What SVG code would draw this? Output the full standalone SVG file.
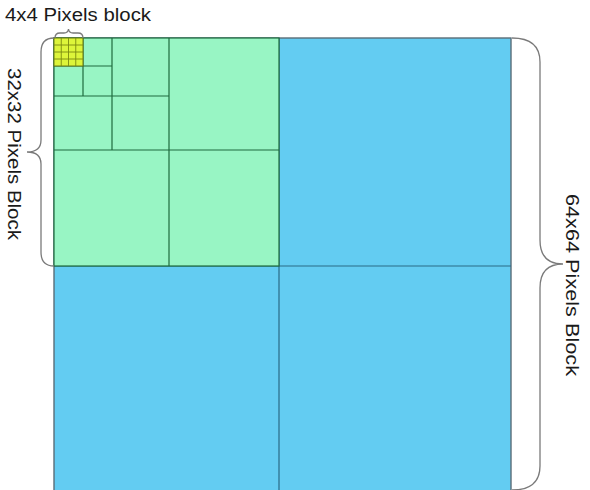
<svg xmlns="http://www.w3.org/2000/svg" width="590" height="490" viewBox="0 0 590 490">
<style>
.lbl{font-family:"Liberation Sans",Arial,sans-serif;font-size:18px;fill:#1a1a1a}
.brace{fill:none;stroke:#7a7a7a;stroke-width:1.3}
.gl{stroke:#1f6b3f;stroke-width:1.2;fill:none}
.bl{stroke:#2a6a85;stroke-width:1.2;fill:none}
.yl{stroke:#7a8a10;stroke-width:0.9;fill:none}
</style>
<rect width="590" height="490" fill="#ffffff"/>
<g id="block64">
<rect x="54" y="38" width="457" height="460" fill="#63CCF2" stroke="#5a6d78" stroke-width="1.4"/>
<line class="bl" x1="279" y1="38" x2="279" y2="490"/>
<line class="bl" x1="54" y1="266" x2="511" y2="266"/>
</g>
<g id="block32">
<rect x="54" y="38" width="225" height="228" fill="#98F5C4" stroke="#1f6b3f" stroke-width="1.2"/>
<line class="gl" x1="169" y1="38" x2="169" y2="266"/>
<line class="gl" x1="54" y1="150" x2="279" y2="150"/>
<line class="gl" x1="112" y1="38" x2="112" y2="150"/>
<line class="gl" x1="54" y1="96" x2="169" y2="96"/>
<line class="gl" x1="83" y1="38" x2="83" y2="96"/>
<line class="gl" x1="54" y1="66" x2="112" y2="66"/>
</g>
<g id="block4">
<rect x="54" y="38" width="29" height="28" fill="#DDF53A" stroke="#6a7a10" stroke-width="1"/>
<line class="yl" x1="61.25" y1="38" x2="61.25" y2="66"/>
<line class="yl" x1="68.5" y1="38" x2="68.5" y2="66"/>
<line class="yl" x1="75.75" y1="38" x2="75.75" y2="66"/>
<line class="yl" x1="54" y1="45" x2="83" y2="45"/>
<line class="yl" x1="54" y1="52" x2="83" y2="52"/>
<line class="yl" x1="54" y1="59" x2="83" y2="59"/>
</g>
<g id="braces">
<path class="brace" d="M55,38 Q55,33 60,33 L64,33 Q68,33 68.5,29 Q69,33 73,33 L78,33 Q83,33 83,38"/>
<path class="brace" d="M54,38 Q41,38 41,52 L41,140 Q41,152 27,152 Q41,152 41,164 L41,252 Q41,266 54,266"/>
<path class="brace" d="M512,38 Q540,38 540,62 L540,240 Q540,264 563,264 Q540,264 540,288 L540,466 Q540,490 512,490"/>
</g>
<g id="labels">
<text class="lbl" x="5" y="21" textLength="146" lengthAdjust="spacingAndGlyphs">4x4 Pixels block</text>
<text class="lbl" transform="translate(8,154) rotate(90)" text-anchor="middle" textLength="172" lengthAdjust="spacingAndGlyphs">32x32 Pixels Block</text>
<text class="lbl" transform="translate(566,285) rotate(90)" text-anchor="middle" textLength="182" lengthAdjust="spacingAndGlyphs">64x64 Pixels Block</text>
</g>
</svg>
